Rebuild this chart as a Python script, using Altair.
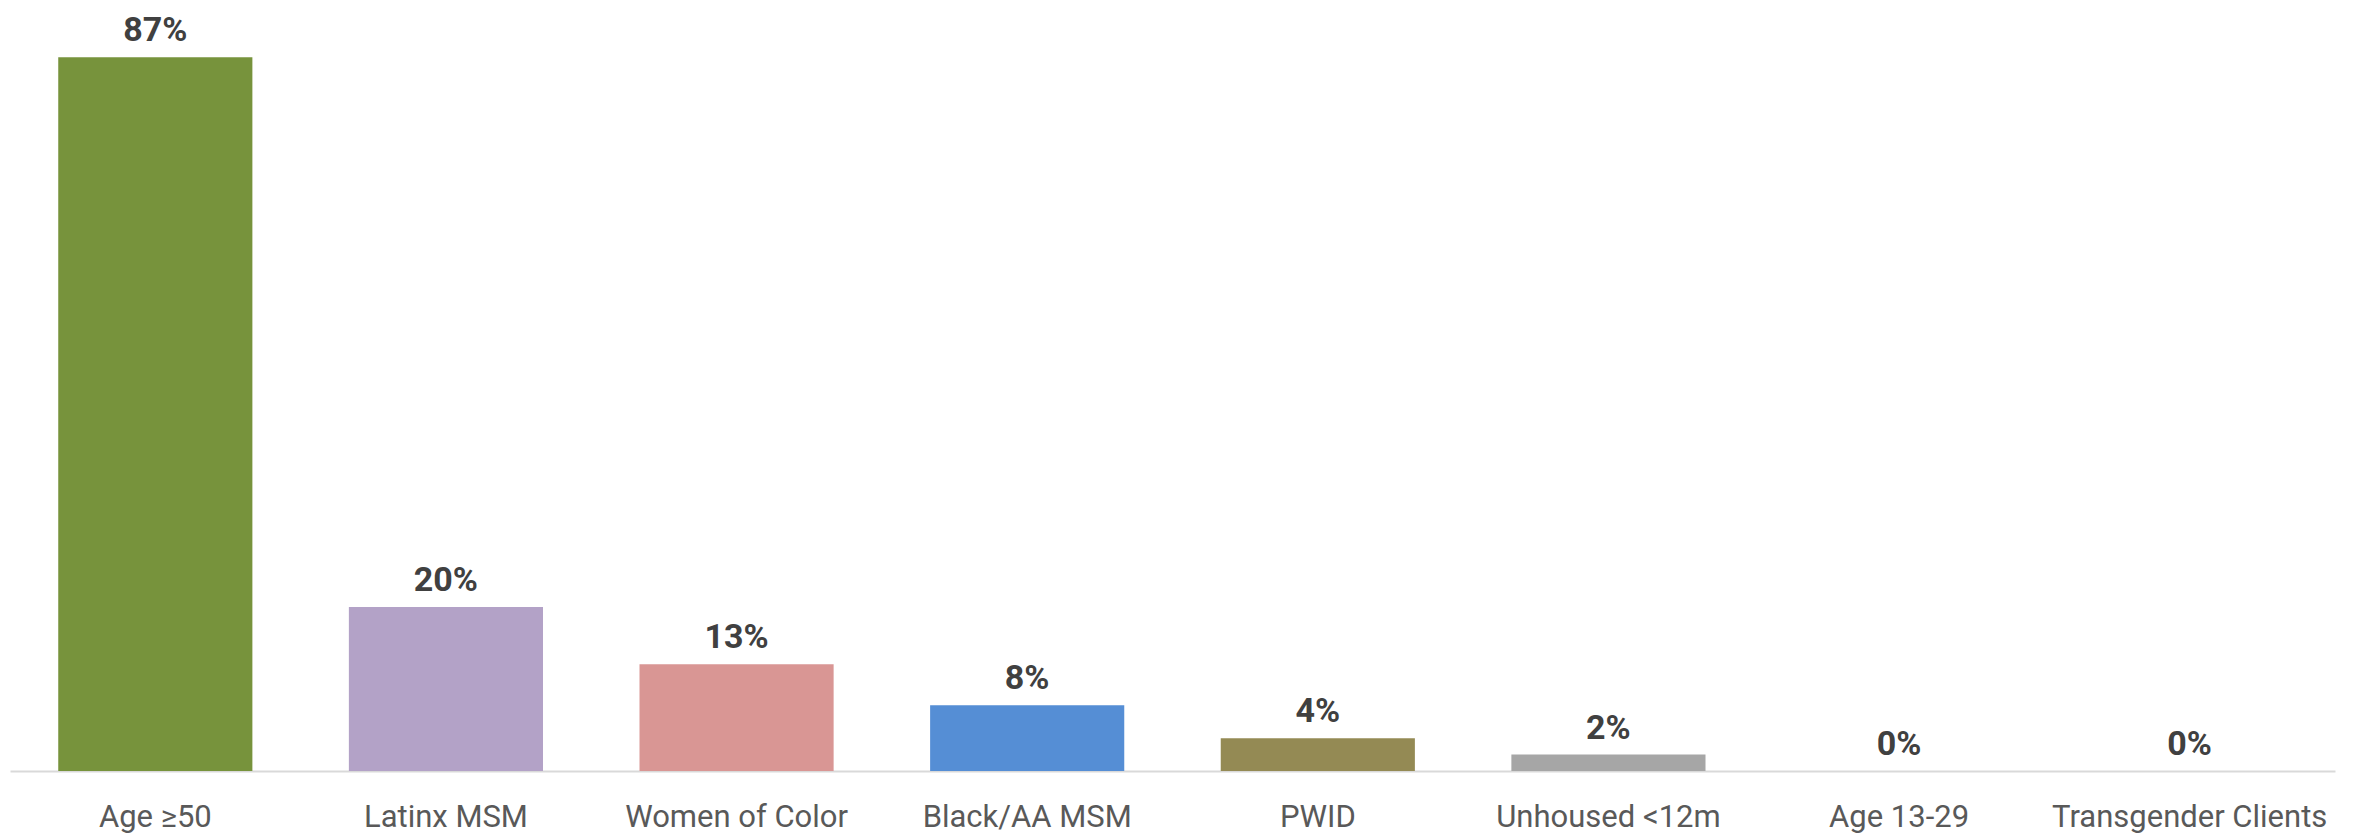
import altair as alt
import pandas as pd

categories = ["Age ≥50", "Latinx MSM", "Women of Color", "Black/AA MSM", "PWID",
              "Unhoused <12m", "Age 13-29", "Transgender Clients"]
values = [0.87, 0.20, 0.13, 0.08, 0.04, 0.02, 0.0, 0.0]
colors = ["#77933C", "#B3A2C7", "#D99694", "#558ED5", "#948A54", "#A6A6A6", "#A6A6A6", "#A6A6A6"]

df = pd.DataFrame({"category": categories, "value": values, "color": colors})

FONT = "Roboto"

x = alt.X(
    "category:N",
    sort=categories,
    scale=alt.Scale(paddingInner=0.332, paddingOuter=0.166),
    axis=alt.Axis(
        title=None, labelAngle=0, labelFont=FONT, labelFontSize=31,
        labelColor="#595959", labelPadding=55, labelBaseline="alphabetic",
        ticks=False, tickSize=0,
        domainColor="#D9D9D9", domainWidth=2, grid=False, labelLimit=0,
    ),
)
y = alt.Y("value:Q", scale=alt.Scale(domain=[0, 0.913], nice=False, zero=True), axis=None)

bars = alt.Chart(df).mark_bar().encode(x=x, y=y, color=alt.Color("color:N", scale=None))
text = alt.Chart(df).mark_text(
    font=FONT, fontSize=34, fontWeight="bold", color="#404040",
    baseline="alphabetic", dy=-16,
).encode(x=x, y=y, text=alt.Text("value:Q", format=".0%"))

chart = (bars + text).properties(
    width=2325, height=749,
    padding={"left": 2, "top": 14, "right": 10, "bottom": 66},
    autosize=alt.AutoSizeParams(type="none"),
).configure_view(stroke=None)

chart.save("out.html", embed_options={"renderer": "svg", "actions": False})
